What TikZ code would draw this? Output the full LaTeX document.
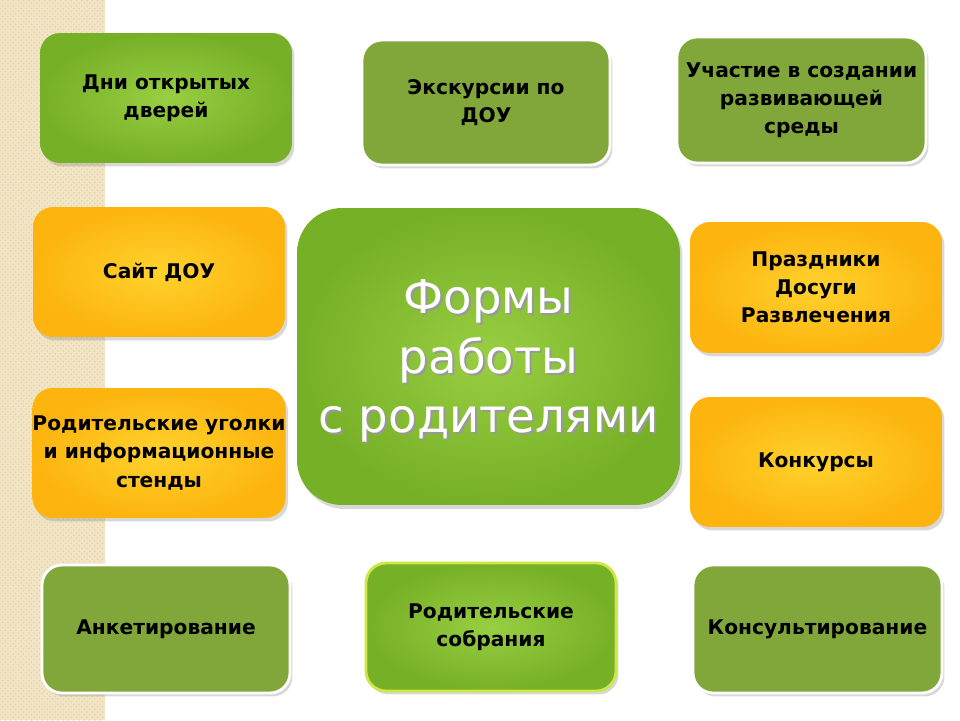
\documentclass[tikz,border=0pt]{standalone}
\usepackage{fontspec}
\setmainfont{DejaVu Sans}
\usetikzlibrary{shadows,patterns}

\definecolor{paper}{RGB}{242,229,198}
\definecolor{paperdots}{RGB}{228,211,174}
\definecolor{lgreen}{RGB}{152,206,66}
\definecolor{dgreen}{RGB}{118,176,38}
\definecolor{olivebox}{RGB}{129,167,58}
\definecolor{ylight}{RGB}{255,210,45}
\definecolor{ydark}{RGB}{253,180,14}
\definecolor{rimgreen}{RGB}{205,232,70}

\tikzset{
  card/.style={rounded corners=0.4cm, inner sep=0pt, align=center, text=black,
    font=\bfseries\fontsize{11.5}{16}\selectfont,
    drop shadow={opacity=0.3, shadow xshift=0.05cm, shadow yshift=-0.07cm}},
  lime/.style={card, inner color=lgreen, outer color=dgreen},
  olive/.style={card, fill=olivebox, draw=white, line width=1.6pt},
  amber/.style={card, inner color=ylight, outer color=ydark},
  hub/.style={rounded corners=0.9cm, inner color=lgreen, outer color=dgreen,
    minimum width=7.66cm, minimum height=5.94cm,
    drop shadow={opacity=0.3, shadow xshift=0.05cm, shadow yshift=-0.08cm}},
  hubtext/.style={align=center, text=white, font=\fontsize{26.5}{34}\selectfont}
}

\begin{document}
\begin{tikzpicture}[x=0.02cm, y=-0.02cm]
\useasboundingbox (0,0) rectangle (960,720);
\fill[white] (0,0) rectangle (960,720);
\fill[paper] (0,0) rectangle (105,720); % paper strip
\fill[pattern=crosshatch dots, pattern color=paperdots] (0,0) rectangle (105,720);

% top row
\node[lime, minimum width=5.04cm, minimum height=2.6cm] (days) at (166,98) {Дни открытых\\дверей};
\node[olive, minimum width=4.96cm, minimum height=2.5cm] (tours) at (486,102.5) {Экскурсии по\\ДОУ};
\node[olive, minimum width=4.98cm, minimum height=2.52cm] (milieu) at (801.5,100) {Участие в создании\\развивающей\\среды};

% middle rows
\node[amber, minimum width=5.04cm, minimum height=2.6cm] (site) at (159,272) {Сайт ДОУ};
\node[amber, minimum width=5.04cm, minimum height=2.62cm] (feasts) at (816,287.5) {Праздники\\Досуги\\Развлечения};
\node[amber, minimum width=5.04cm, minimum height=2.6cm] (corners) at (159,453) {Родительские уголки\\и информационные\\стенды};
\node[amber, minimum width=5.04cm, minimum height=2.6cm] (contests) at (816,462) {Конкурсы};

% centre
\node[hub] (forms) at (488.5,356.5) {};
\node[hubtext, text=black!40] (formsshadow) at (490.5,363) {Формы\\работы\\с родителями};
\node[hubtext] (formstext) at (488.5,361) {Формы\\работы\\с родителями};

% bottom row
\node[olive, minimum width=4.96cm, minimum height=2.56cm] (survey) at (166,629) {Анкетирование};
\node[lime, draw=rimgreen, line width=1.6pt, minimum width=5cm, minimum height=2.56cm] (meetings) at (491,627) {Родительские\\собрания};
\node[olive, minimum width=4.98cm, minimum height=2.56cm] (advice) at (817.5,629) {Консультирование};
\end{tikzpicture}
\end{document}
